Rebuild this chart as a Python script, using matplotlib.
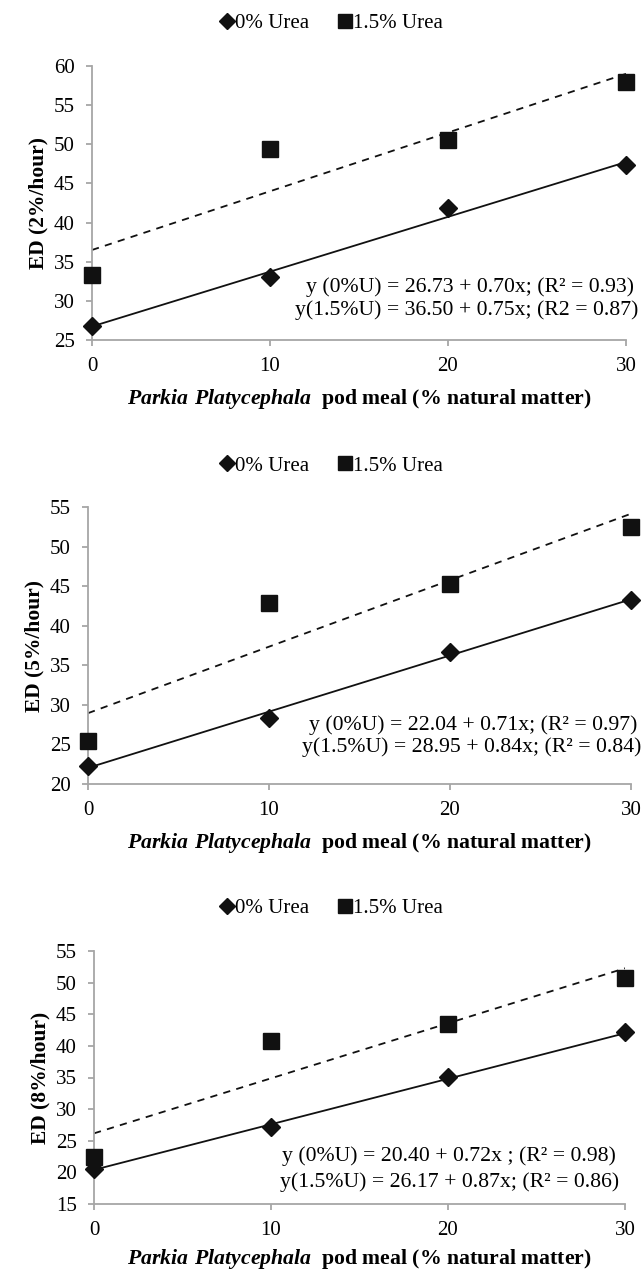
import matplotlib
matplotlib.use("Agg")
import matplotlib.pyplot as plt
import numpy as np

plt.rcParams['font.family'] = ['Liberation Serif', 'DejaVu Serif']
plt.rcParams['mathtext.fontset'] = 'custom'
plt.rcParams['mathtext.rm'] = 'Liberation Serif'
plt.rcParams['mathtext.bf'] = 'Liberation Serif:bold'
plt.rcParams['mathtext.bfit'] = 'Liberation Serif:italic:bold'

x = [0, 10, 20, 30]

# ED at 2%/hour
ed2_u0 = [26.8, 33.1, 41.8, 47.4]
ed2_u15 = [33.3, 49.4, 50.6, 58.0]
# ED at 5%/hour
ed5_u0 = [22.3, 28.4, 36.7, 43.3]
ed5_u15 = [25.4, 42.9, 45.3, 52.5]
# ED at 8%/hour
ed8_u0 = [20.6, 27.1, 35.1, 42.2]
ed8_u15 = [22.5, 40.7, 43.4, 50.8]

# trend lines (intercept, slope) as printed on the chart
fit2 = [(26.73, 0.70), (36.50, 0.75)]
fit5 = [(22.04, 0.71), (28.95, 0.84)]
fit8 = [(20.40, 0.72), (26.17, 0.87)]

eq2 = ["y (0%U) = 26.73 + 0.70x; (R² = 0.93)", "y(1.5%U) = 36.50 + 0.75x; (R2 = 0.87)"]
eq5 = ["y (0%U) = 22.04 + 0.71x; (R² = 0.97)", "y(1.5%U) = 28.95 + 0.84x; (R² = 0.84)"]
eq8 = ["y (0%U) = 20.40 + 0.72x ; (R² = 0.98)", "y(1.5%U) = 26.17 + 0.87x; (R² = 0.86)"]

ylabels = ["ED (2%/hour)", "ED (5%/hour)", "ED (8%/hour)"]
ylims = [(25, 60), (20, 55), (15, 55)]
series_labels = ["0% Urea", "1.5% Urea"]

W, H = 644, 1270
fig = plt.figure(figsize=(W / 100, H / 100), dpi=100)

# axes boxes in pixels: left, right, top, bottom
boxes = [(92, 626, 66, 340), (88, 631, 507, 784), (94, 625, 951, 1204)]
legend_y = [23, 466, 908]
eq_y = [(287, 310), (725, 747), (1156, 1182)]
eq_right = [(634, 638), (637, 641), (616, 619)]
xlab_pad = [7.5, 7.5, 4.5]

panels = [(ed2_u0, ed2_u15, fit2, eq2), (ed5_u0, ed5_u15, fit5, eq5), (ed8_u0, ed8_u15, fit8, eq8)]
dark = '#111111'
gray = '#a6a6a6'

for i, (u0, u15, fit, eq) in enumerate(panels):
    l, r, t, b = boxes[i]
    ax = fig.add_axes([l / W, 1 - b / H, (r - l) / W, (b - t) / H])
    xx = np.array([0, 30])
    ax.plot(xx, fit[0][0] + fit[0][1] * xx, color=dark, lw=1.3, zorder=2)
    ax.plot(xx, fit[1][0] + fit[1][1] * xx, color=dark, lw=1.3, ls=(0, (4, 3.5)), zorder=2)
    h1, = ax.plot(x, u0, 'D', color=dark, ms=9, ls='none', clip_on=False, zorder=3, label=series_labels[0])
    h2, = ax.plot(x, u15, 's', color=dark, ms=12, ls='none', clip_on=False, zorder=3, label=series_labels[1])

    ax.set_xlim(0, 30)
    ax.set_ylim(*ylims[i])
    ax.set_xticks(x)
    ax.set_yticks(np.arange(ylims[i][0], ylims[i][1] + 1, 5))
    for s in ['top', 'right']:
        ax.spines[s].set_visible(False)
    for s in ['left', 'bottom']:
        ax.spines[s].set_color(gray)
        ax.spines[s].set_linewidth(1.3)
    ax.tick_params(direction='out', length=4.5, width=1.3, color=gray, labelsize=15, pad=8)
    ax.set_ylabel(ylabels[i], fontsize=15.5, fontweight='bold', labelpad=3.5)
    ax.set_xlabel(r"$\mathbfit{Parkia\ Platycephala}$  pod meal (% natural matter)",
                  fontsize=15.7, fontweight='bold', labelpad=xlab_pad[i])

    fig.legend(handles=[h1, h2], loc='center', bbox_to_anchor=(0.515, 1 - legend_y[i] / H),
               ncol=2, frameon=False, fontsize=15, handlelength=0.6, handletextpad=0.1,
               columnspacing=1.4, markerscale=0.85)

    for k in range(2):
        fig.text(eq_right[i][k] / W, 1 - eq_y[i][k] / H, eq[k], ha='right', va='center', fontsize=15.7)

fig.savefig("out.png", dpi=100)
